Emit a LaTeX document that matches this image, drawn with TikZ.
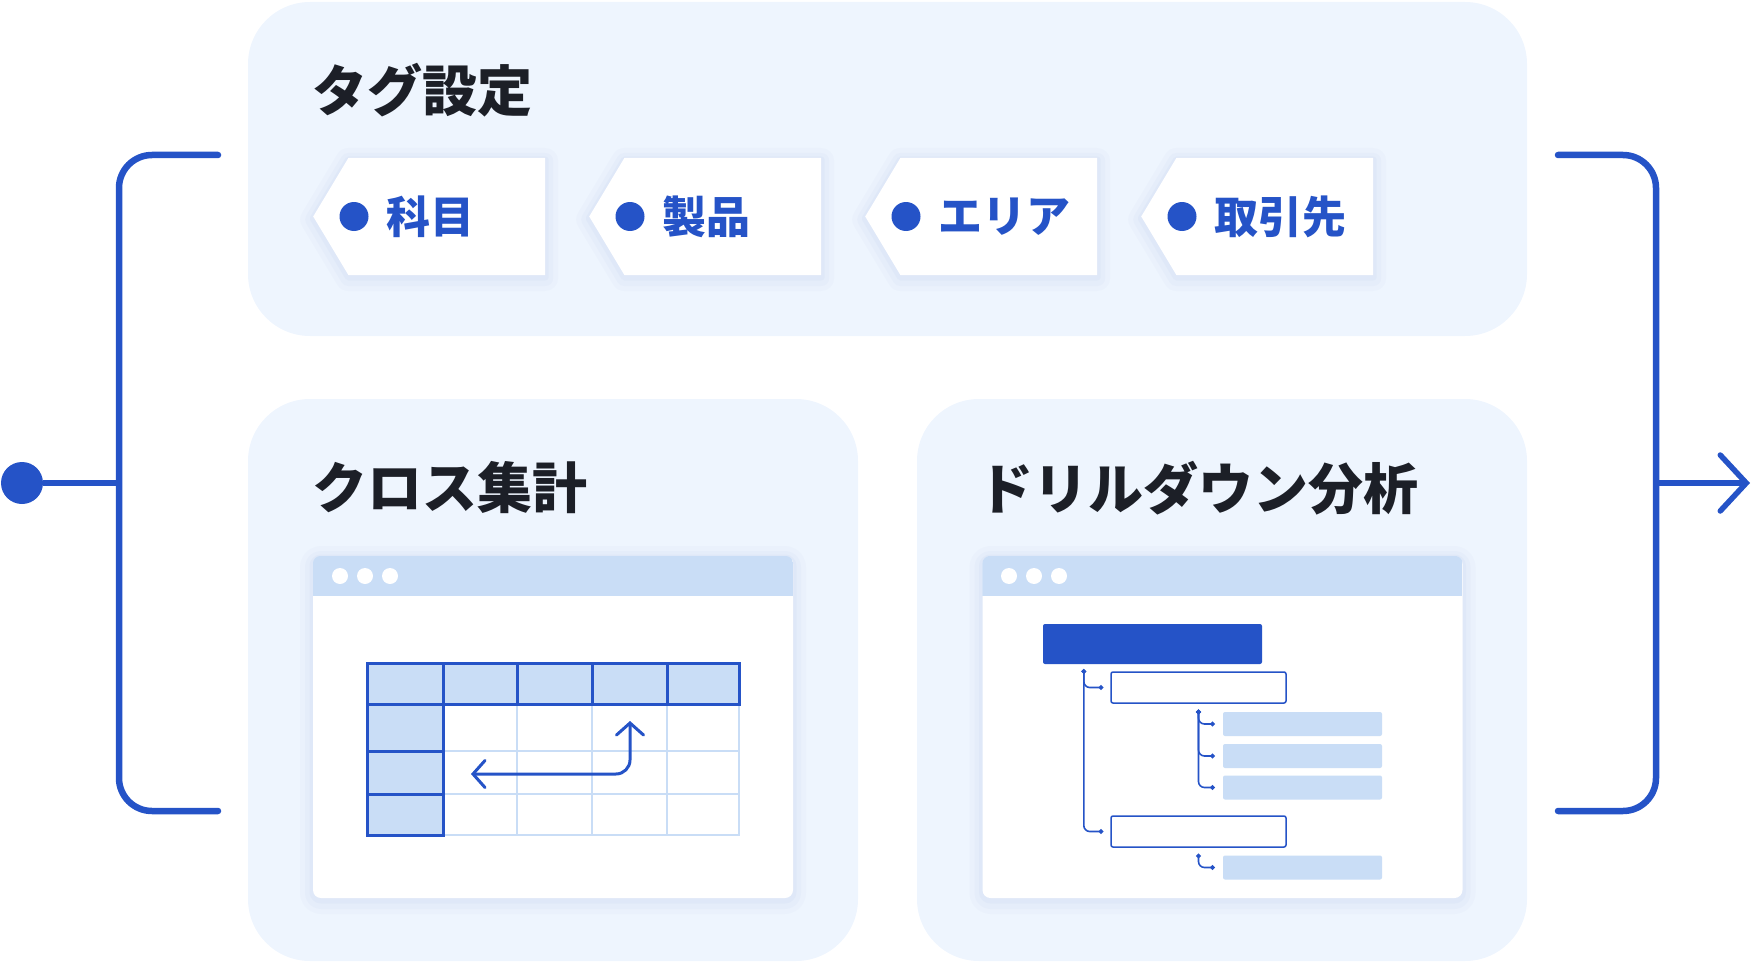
\documentclass[tikz,border=0pt]{standalone}
\usepackage{fontspec}
\setmainfont{Noto Sans CJK JP}
\usetikzlibrary{arrows.meta,shapes.symbols}

\definecolor{mainblue}{HTML}{2553C7}
\definecolor{panelbg}{HTML}{EEF5FE}
\definecolor{paleblue}{HTML}{C9DDF6}
\definecolor{inkdark}{HTML}{1C1F27}
\definecolor{shadowblue}{HTML}{8FA8D8}

\tikzset{
  softshadow/.style={line join=round,
    preaction={draw=shadowblue,draw opacity=0.04,line width=26pt,transform canvas={yshift=-3pt}},
    preaction={draw=shadowblue,draw opacity=0.05,line width=16pt,transform canvas={yshift=-3pt}},
    preaction={draw=shadowblue,draw opacity=0.06,line width=7pt,transform canvas={yshift=-2pt}}},
  bracketline/.style={line width=6.5pt,color=mainblue,line cap=round,rounded corners=33pt},
  panelbox/.style={fill=panelbg,rounded corners=62pt},
  paneltitle/.style={anchor=west,inner sep=0pt,text=inkdark,font=\fontsize{55}{62}\selectfont\bfseries},
  tagbox/.style={signal,signal to=west,signal pointer angle=118,fill=white,anchor=west,
    minimum width=232pt,minimum height=117pt,inner sep=0pt,softshadow},
  tagdot/.style={circle,fill=mainblue,minimum size=29pt,inner sep=0pt},
  tagtext/.style={anchor=west,inner sep=0pt,text=mainblue,font=\fontsize{44}{50}\selectfont\bfseries},
  winbox/.style={fill=white,rounded corners=8pt,minimum width=480pt,minimum height=342pt,inner sep=0pt,softshadow},
  windot/.style={circle,fill=white,minimum size=16pt,inner sep=0pt},
  griddark/.style={mainblue,line width=3pt},
  gridlight/.style={paleblue,line width=2.3pt},
  barbox/.style={fill=mainblue,rounded corners=2pt,minimum width=219pt,minimum height=40pt,inner sep=0pt},
  rowbox/.style={draw=mainblue,line width=1.5pt,fill=white,rounded corners=2pt,minimum width=175pt,minimum height=31pt,inner sep=0pt},
  leafbox/.style={fill=paleblue,rounded corners=2pt,minimum width=159pt,minimum height=24pt,inner sep=0pt},
  treeline/.style={mainblue,line width=1.6pt,rounded corners=6pt,arrows={Circle[length=4.5pt]-Circle[length=4.5pt]}}
}

\begin{document}
\begin{tikzpicture}[x=1pt,y=-1pt]
\useasboundingbox (0,0) rectangle (1754,963);

% Panels
\fill[panelbox] (248,2) rectangle (1527,336);
\fill[panelbox] (248,399) rectangle (858,961);
\fill[panelbox] (917,399) rectangle (1527,961);

\node[paneltitle] (tagtitle) at (312,90) {タグ設定};
\node[paneltitle] (crosstitle) at (312,488) {クロス集計};
\node[paneltitle] (drilltitle) at (978,488) {ドリルダウン分析};

% Tags
\node[tagbox] (tag1) at (313,216.5) {};
\node[tagbox] (tag2) at (589,216.5) {};
\node[tagbox] (tag3) at (865,216.5) {};
\node[tagbox] (tag4) at (1141,216.5) {};
\node[tagdot] (dot1) at ([xshift=41pt]tag1.west) {};
\node[tagdot] (dot2) at ([xshift=41pt]tag2.west) {};
\node[tagdot] (dot3) at ([xshift=41pt]tag3.west) {};
\node[tagdot] (dot4) at ([xshift=41pt]tag4.west) {};
\node[tagtext] (name1) at ([xshift=73pt]tag1.west) {科目};
\node[tagtext] (name2) at ([xshift=73pt]tag2.west) {製品};
\node[tagtext] (name3) at ([xshift=73pt]tag3.west) {エリア};
\node[tagtext] (name4) at ([xshift=73pt]tag4.west) {取引先};

% Brackets in and out
\node[circle,fill=mainblue,minimum size=42pt,inner sep=0pt] (startdot) at (22,483) {};
\coordinate (lbtop) at (218,155);
\coordinate (lbmid) at (119,483);
\coordinate (lbbot) at (218,811);
\coordinate (rbtop) at (1558,155);
\coordinate (rbmid) at (1656,483);
\coordinate (rbbot) at (1558,811);
\coordinate (endtip) at (1750,483);
\draw[bracketline] (lbtop) -| (lbmid) |- (lbbot);
\draw[bracketline] (rbtop) -| (rbmid) |- (rbbot);
\draw[mainblue,line width=5.5pt] (startdot) -- (lbmid);
\draw[mainblue,line width=5.5pt,line cap=round,-{Straight Barb[length=26pt,width=56pt,line cap=round]}] (rbmid) -- (endtip);

% Windows
\node[winbox] (winL) at (553,727) {};
\node[winbox] (winR) at (1222.5,727) {};
\begin{scope}
  \clip[rounded corners=8pt] (winL.north west) rectangle (winL.south east);
  \fill[paleblue] (winL.north west) rectangle ([yshift=-40pt]winL.north east);
\end{scope}
\begin{scope}
  \clip[rounded corners=8pt] (winR.north west) rectangle (winR.south east);
  \fill[paleblue] (winR.north west) rectangle ([yshift=-40pt]winR.north east);
\end{scope}
\node[windot] at (340,576) {};
\node[windot] at (365,576) {};
\node[windot] at (390,576) {};
\node[windot] at (1009,576) {};
\node[windot] at (1034,576) {};
\node[windot] at (1059,576) {};

% Cross table
\fill[paleblue] (367,663) rectangle (739,704);
\fill[paleblue] (367,704) rectangle (443,835);
\draw[gridlight] (443,704) rectangle (739,835);
\draw[gridlight] (517,704) -- (517,835) (592,704) -- (592,835) (667,704) -- (667,835);
\draw[gridlight] (443,751) -- (739,751) (443,794) -- (739,794);
\draw[griddark] (367,663) rectangle (739,704);
\draw[griddark] (443,663) -- (443,704) (517,663) -- (517,704) (592,663) -- (592,704) (667,663) -- (667,704);
\draw[griddark] (367,704) -- (367,835) -- (443,835) -- (443,704);
\draw[griddark] (367,751) -- (443,751) (367,794) -- (443,794);
\coordinate (swapfrom) at (471,774);
\coordinate (swapto) at (630,721);
\draw[mainblue,line width=3pt,line cap=round,rounded corners=14pt,
  {Straight Barb[length=12pt,width=27pt,line cap=round]}-{Straight Barb[length=12pt,width=27pt,line cap=round]}]
  (swapfrom) -| (swapto);

% Drill-down tree
\node[barbox] (bar) at (1152.5,644) {};
\node[rowbox] (row1) at (1198.5,687.5) {};
\node[rowbox] (row2) at (1198.5,831.5) {};
\node[leafbox] (leaf1) at (1302.5,724) {};
\node[leafbox] (leaf2) at (1302.5,756) {};
\node[leafbox] (leaf3) at (1302.5,787.5) {};
\node[leafbox] (leaf4) at (1302.5,867.5) {};
\coordinate (trunkA) at ([xshift=41pt,yshift=-5pt]bar.south west);
\coordinate (trunkB) at ([yshift=-6pt]row1.south);
\coordinate (trunkC) at ([yshift=-6pt]row2.south);
\draw[treeline] (trunkA) |- ([xshift=-7pt]row1.west);
\draw[treeline] (trunkA) |- ([xshift=-7pt]row2.west);
\draw[treeline] (trunkB) |- ([xshift=-8pt]leaf1.west);
\draw[treeline] (trunkB) |- ([xshift=-8pt]leaf2.west);
\draw[treeline] (trunkB) |- ([xshift=-8pt]leaf3.west);
\draw[treeline] (trunkC) |- ([xshift=-8pt]leaf4.west);

\end{tikzpicture}
\end{document}
